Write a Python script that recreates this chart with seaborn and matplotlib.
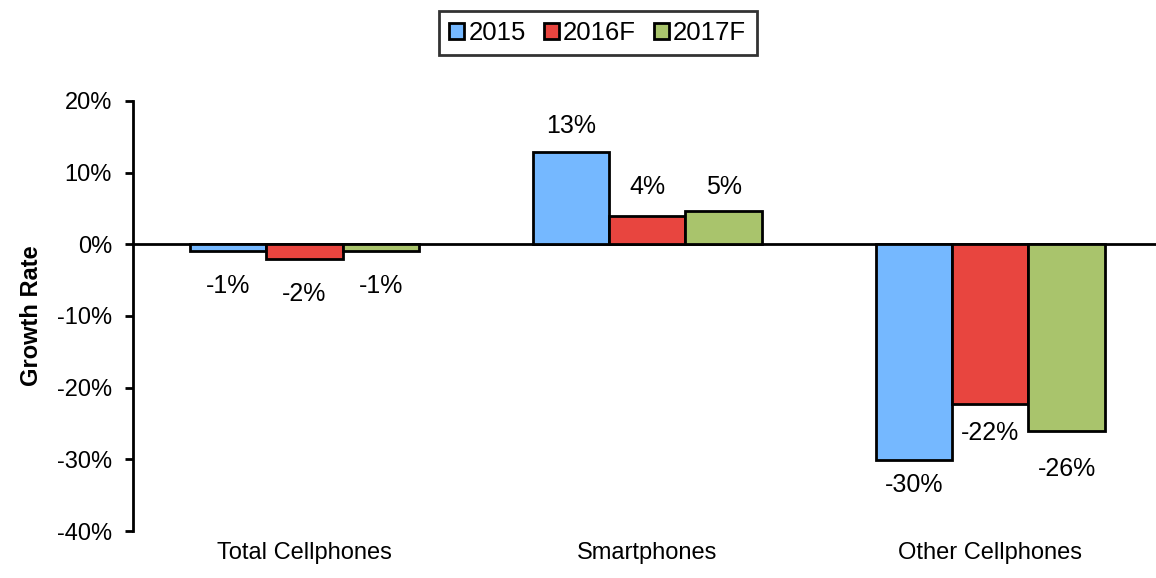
import pandas as pd
import matplotlib.pyplot as plt
import seaborn as sns

# ============================================================
# DATA (growth rate in %)
# ============================================================
categories = ['Total Cellphones', 'Smartphones', 'Other Cellphones']
years = ['2015', '2016F', '2017F']
growth_2015 = [-0.9, 12.9, -30.1]
growth_2016 = [-2.1, 4.0, -22.3]
growth_2017 = [-0.9, 4.7, -26.1]
y_ticks = [-40, -30, -20, -10, 0, 10, 20]
colors = ['#75B8FF', '#E8453F', '#A9C46C']

# label gap from bar end (points), per year then category - excel style placement
label_pad = {
    '2015': [17, 10, 9],
    '2016F': [16.5, 12, 12],
    '2017F': [17, 8.5, 18.5],
}

df = pd.DataFrame({
    'category': categories * 3,
    'year': [y for y in years for _ in categories],
    'growth': growth_2015 + growth_2016 + growth_2017,
})

# ============================================================
# PLOT
# ============================================================
sns.set_style('white')
plt.rcParams['font.family'] = ['Liberation Sans', 'DejaVu Sans']
plt.rcParams['text.color'] = 'black'

fig = plt.figure(figsize=(11.56, 5.78), dpi=100)
ax = fig.add_axes([0.115, 0.0813, 0.89, 0.744])

sns.barplot(data=df, x='category', y='growth', hue='year', order=categories,
            hue_order=years, palette=colors, saturation=1, width=0.667,
            edgecolor='black', linewidth=2, ax=ax)

for cont, yr in zip(ax.containers, years):
    for bar, v, pad in zip(cont, cont.datavalues, label_pad[yr]):
        x = bar.get_x() + bar.get_width() / 2
        ax.annotate(f'{v:.0f}%', (x, v), xytext=(0, pad if v >= 0 else -pad),
                    textcoords='offset points', ha='center',
                    va='bottom' if v >= 0 else 'top', fontsize=18,
                    color='black')

ax.set_ylim(-40, 20)
ax.set_yticks(y_ticks)
ax.set_yticklabels([f'{t}%' for t in y_ticks], fontsize=17)
ax.set_ylabel('Growth Rate', fontsize=17, fontweight='bold', labelpad=10,
              color='black')
ax.set_xlabel('')
ax.set_xlim(-0.5, 2.5)

# zero line acts as the category axis, with ticks at category boundaries
for side in ['top', 'right']:
    ax.spines[side].set_visible(False)
ax.spines['bottom'].set_position(('data', 0))
ax.spines['bottom'].set_linewidth(2)
ax.spines['left'].set_linewidth(2)
ax.spines['bottom'].set_color('black')
ax.spines['left'].set_color('black')
ax.spines['bottom'].set_zorder(0.5)
ax.set_xticks([0.5, 1.5])
ax.set_xticklabels([])
ax.tick_params(axis='x', direction='out', length=6, width=2, colors='black')
ax.tick_params(axis='y', direction='out', length=6, width=2, left=True,
               colors='black', pad=9)

# category names along the bottom
sec = ax.secondary_xaxis('bottom')
sec.set_xticks(range(len(categories)))
sec.set_xticklabels(categories, fontsize=17, color='black')
sec.tick_params(length=0, pad=8)
sec.spines['bottom'].set_visible(False)

handles, labels = ax.get_legend_handles_labels()
leg = ax.legend(handles, labels, loc='center', bbox_to_anchor=(0.517, 0.943),
                bbox_transform=fig.transFigure, ncol=3, fontsize=18.5,
                frameon=True, fancybox=False, edgecolor='black',
                handlelength=0.6, handleheight=0.6, handletextpad=0.15,
                columnspacing=0.7, borderpad=0.4, borderaxespad=0)
leg.get_frame().set_linewidth(2)

plt.savefig('out.png', dpi=100)
plt.close()
